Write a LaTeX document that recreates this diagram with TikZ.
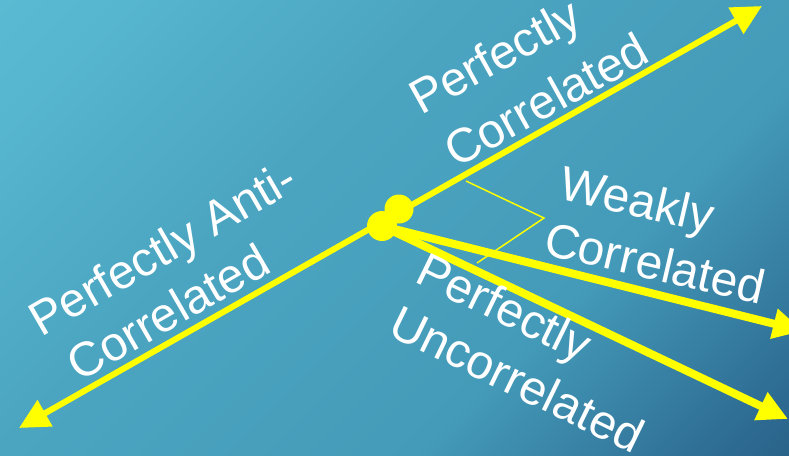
\documentclass[tikz,border=0pt]{standalone}
\usepackage{fontspec}
\setmainfont{Liberation Sans}
\usetikzlibrary{arrows.meta}

\definecolor{bglight}{HTML}{63C4DA}
\definecolor{bgupper}{HTML}{56B5CF}
\definecolor{bgmid}{HTML}{4BA5C1}
\definecolor{bgmidb}{HTML}{449BB9}
\definecolor{bgdeep}{HTML}{2D6A92}
\definecolor{bgdeeper}{HTML}{24557B}
\definecolor{bgdark}{HTML}{1E496E}
\definecolor{rayyellow}{HTML}{FFFF00}

% diagonal background: dark corner bottom right, light corner top left
\pgfdeclareverticalshading{bgshade}{100bp}{%
  color(0bp)=(bgdark); color(8bp)=(bgdeeper); color(18bp)=(bgdeep);
  color(36bp)=(bgmidb); color(60bp)=(bgmid); color(78bp)=(bgupper);
  color(100bp)=(bglight)}

\begin{document}
\begin{tikzpicture}[x=1pt,y=-1pt,
  lbl/.style={text=white, font=\fontsize{48}{56}\selectfont, inner sep=0pt, anchor=base west},
  mainline/.style={draw=rayyellow, line width=6pt},
  ray/.style={draw=rayyellow, line width=8pt, -{Triangle[length=30pt,width=29pt]}},
  hub/.style={circle, fill=rayyellow, minimum size=30pt, inner sep=0pt},
  callout/.style={draw=rayyellow, line width=1.5pt}]

\useasboundingbox (0,0) rectangle (789,455);
\shade[shading=bgshade, shading angle=45] (0,0) rectangle (789,455);
\clip (0,0) rectangle (789,455);

% end points of the rays
\coordinate (sw) at (19,428);
\coordinate (ne) at (762,6);
\coordinate (wtip) at (803,331);
\coordinate (utip) at (788,419);

% the origin blob
\node[hub] (hubA) at (382,226) {};
\node[hub, minimum size=29pt] (hubB) at (399,209) {};

% rays
\draw[mainline, {Triangle[length=30pt,width=29pt]}-{Triangle[length=30pt,width=29pt]}] (sw) -- (ne);
\draw[ray] (hubA.center) -- (wtip);
\draw[ray] (hubA.center) -- (utip);

% bracket marking the weakly correlated range
\coordinate (ca) at (466,181);
\coordinate (cv) at (544,218);
\coordinate (cb) at (477,263);
\draw[callout] (ca) -- (cv) -- (cb);

% labels
\node[lbl, rotate=29] (pc1) at (421,116) {Perfectly};
\node[lbl, rotate=29] (pc2) at (456,169) {Correlated};
\node[lbl, rotate=30] (pa1) at (41,338) {Perfectly Anti-};
\node[lbl, rotate=30] (pa2) at (79,383) {Correlated};
\node[lbl, rotate=-13] (wc1) at (557,198) {Weakly};
\node[lbl, rotate=-13] (wc2) at (542,254) {Correlated};
\node[lbl, rotate=-26] (pu1) at (413,281) {Perfectly};
\node[lbl, rotate=-26] (pu2) at (386,334) {Uncorrelated};
\end{tikzpicture}
\end{document}
